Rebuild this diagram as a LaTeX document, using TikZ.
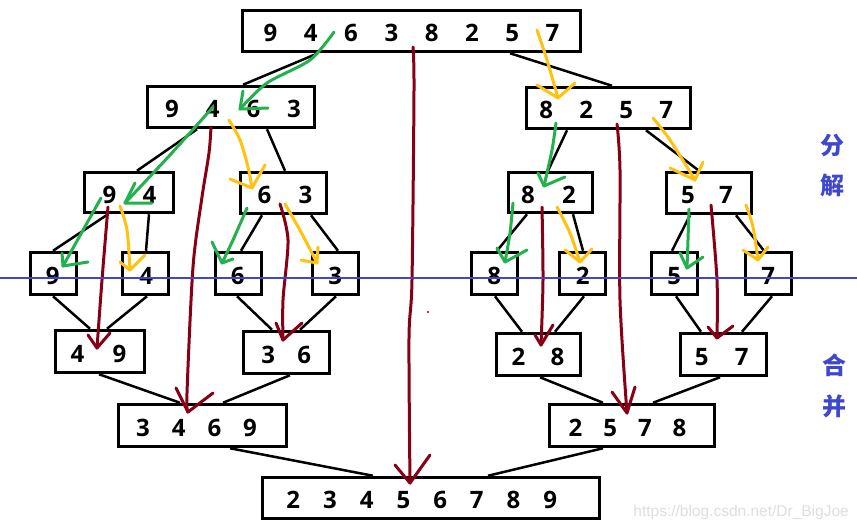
\documentclass[tikz,border=0pt]{standalone}
\usepackage{fontspec}
\setmainfont{Open Sans}
\newfontfamily\cjk{Noto Sans CJK SC}
\newfontfamily\wmfont{Liberation Sans}
\definecolor{pgreen}{HTML}{22B14C}
\definecolor{pyellow}{HTML}{FFC20E}
\definecolor{pred}{HTML}{880015}
\definecolor{pblue}{HTML}{3F48CC}
\newlength\dpitch
\def\Dloop#1{\ifx#1\relax\else\makebox[\dpitch]{#1}\expandafter\Dloop\fi}
\newcommand\row[3]{\setlength\dpitch{#1pt}\hbox to 0pt{\hss\kern#2pt\relax\Dloop#3\relax\hss}}
\tikzset{
  box/.style={draw, line width=3pt, inner sep=0pt, text height=21pt, text depth=0pt,
    font=\bfseries\fontsize{24}{24}\selectfont},
  leaf/.style={box, minimum width=46.5pt, minimum height=42.5pt},
  tree/.style={line width=2.5pt},
  ga/.style={draw=pgreen, line width=3pt, line cap=round, line join=round},
  ya/.style={draw=pyellow, line width=3pt, line cap=round, line join=round},
  ra/.style={draw=pred, line width=3pt, line cap=round, line join=round},
  cjkt/.style={font=\cjk\bfseries\fontsize{24}{24}\selectfont, text=pblue, inner sep=0pt},
  blueline/.style={draw=pblue, line width=2.5pt}
}
\begin{document}
\begin{tikzpicture}[x=1pt,y=-1pt]
\fill[white] (0,0) rectangle (857,531);
\useasboundingbox (0,0) rectangle (857,531);

% boxes
\node[box, minimum width=338.5pt, minimum height=41.5pt] (top) at (411.5,31) {\row{40.3}{0}{94638257}};
\node[box, minimum width=167.5pt, minimum height=41.5pt] (l1a) at (231,107) {\row{40.7}{4}{9463}};
\node[box, minimum width=164.5pt, minimum height=41.5pt] (l1b) at (608.5,108) {\row{40}{-4.5}{8257}};
\node[box, minimum width=89.5pt, minimum height=40.5pt] (l2a) at (129,192.5) {\row{40}{1}{94}};
\node[box, minimum width=86.5pt, minimum height=41.5pt] (l2b) at (283.5,193) {\row{41}{3}{63}};
\node[box, minimum width=84.5pt, minimum height=40.5pt] (l2c) at (550.5,192.5) {\row{41}{-4}{82}};
\node[box, minimum width=85.5pt, minimum height=41.5pt] (l2d) at (709,193) {\row{38}{-4}{57}};
\node[leaf] (f9) at (53.5,273.5) {\row{20}{-1.5}{9}};
\node[leaf] (f4) at (145.5,273.5) {\row{20}{1.5}{4}};
\node[leaf] (f6) at (238.5,273.5) {\row{20}{-1.5}{6}};
\node[leaf] (f3) at (335.5,273.5) {\row{20}{-0.5}{3}};
\node[leaf] (f8) at (494.5,273.5) {\row{20}{-0.5}{8}};
\node[leaf] (f2) at (582.5,273.5) {\row{20}{0.5}{2}};
\node[leaf] (f5) at (674.5,273.5) {\row{20}{-0.5}{5}};
\node[leaf] (f7) at (768.5,273.5) {\row{20}{-0.5}{7}};
\node[box, minimum width=89.5pt, minimum height=42.5pt] (m49) at (100,351.5) {\row{42}{-3}{49}};
\node[box, minimum width=86.5pt, minimum height=42.5pt] (m36) at (286.5,352.5) {\row{36}{-0.5}{36}};
\node[box, minimum width=84.5pt, minimum height=42.5pt] (m28) at (538.5,354.5) {\row{39}{-1}{28}};
\node[box, minimum width=86.5pt, minimum height=42.5pt] (m57) at (723.5,354.5) {\row{40}{-3.5}{57}};
\node[box, minimum width=168.5pt, minimum height=42.5pt] (m3469) at (202.5,425.5) {\row{35.7}{-12}{3469}};
\node[box, minimum width=165.5pt, minimum height=42.5pt] (m2578) at (632,425.5) {\row{34.7}{-9}{2578}};
\node[box, minimum width=337.5pt, minimum height=41.5pt] (fin) at (431,498) {\row{36.7}{-18.5}{23456789}};

% tree connectors
\draw[tree] ([xshift=-93.5pt]top.south) -- ([xshift=12pt]l1a.north);
\draw[tree] ([xshift=98.5pt]top.south) -- ([xshift=3.5pt]l1b.north);
\draw[tree] ([xshift=-34pt]l1a.south) -- ([xshift=8pt]l2a.north);
\draw[tree] ([xshift=36pt]l1a.south) -- ([xshift=1.5pt]l2b.north);
\draw[tree] ([xshift=-41.5pt]l1b.south) -- ([xshift=-2.5pt]l2c.north);
\draw[tree] ([xshift=37.5pt]l1b.south) -- ([xshift=-10pt]l2d.north);
\draw[tree] ([xshift=-21pt]l2a.south) -- ([xshift=-0.5pt]f9.north);
\draw[tree] ([xshift=20pt]l2a.south) -- ([xshift=0.5pt]f4.north);
\draw[tree] ([xshift=-21.5pt]l2b.south) -- ([xshift=2.5pt]f6.north);
\draw[tree] ([xshift=27.5pt]l2b.south) -- ([xshift=2.5pt]f3.north);
\draw[tree] ([xshift=-23.5pt]l2c.south) -- ([xshift=2.5pt]f8.north);
\draw[tree] ([xshift=22.5pt]l2c.south) -- ([xshift=0.5pt]f2.north);
\draw[tree] ([xshift=-19pt]l2d.south) -- ([xshift=-2.5pt]f5.north);
\draw[tree] ([xshift=27pt]l2d.south) -- ([xshift=-4.5pt]f7.north);
\draw[tree] ([xshift=-0.5pt]f9.south) -- ([xshift=-10pt]m49.north);
\draw[tree] ([xshift=1.5pt]f4.south) -- ([xshift=7pt]m49.north);
\draw[tree] ([xshift=-1.5pt]f6.south) -- ([xshift=-14.5pt]m36.north);
\draw[tree] ([xshift=0.5pt]f3.south) -- ([xshift=13.5pt]m36.north);
\draw[tree] ([xshift=0.5pt]f8.south) -- ([xshift=-16.5pt]m28.north);
\draw[tree] ([xshift=1.5pt]f2.south) -- ([xshift=16.5pt]m28.north);
\draw[tree] ([xshift=1.5pt]f5.south) -- ([xshift=-22.5pt]m57.north);
\draw[tree] ([xshift=3.5pt]f7.south) -- ([xshift=18.5pt]m57.north);
\draw[tree] ([xshift=-1pt]m49.south) -- ([xshift=-22.5pt]m3469.north);
\draw[tree] ([xshift=3.5pt]m36.south) -- ([xshift=20.5pt]m3469.north);
\draw[tree] ([xshift=1.5pt]m28.south) -- ([xshift=-29pt]m2578.north);
\draw[tree] ([xshift=-3.5pt]m57.south) -- ([xshift=21pt]m2578.north);
\draw[tree] ([xshift=27.5pt]m3469.south) -- ([xshift=-58pt]fin.north);
\draw[tree] ([xshift=-29pt]m2578.south) -- ([xshift=57pt]fin.north);

% green strokes
\draw[ga] plot[smooth] coordinates {(334,32) (310,60) (267,83) (240,109)};
\draw[ga] (243,91) -- (240,109) -- (268,108);
\draw[ga] plot[smooth] coordinates {(213,107) (170,155) (125,203)};
\draw[ga] (135,183) -- (125,203) -- (152,203);
\draw[ga] plot[smooth] coordinates {(101,198) (82,232) (63,266)};
\draw[ga] (62,253) -- (63,266) -- (88,262);
\draw[ga] plot[smooth] coordinates {(247,208) (233,240) (222,263)};
\draw[ga] (212,242) -- (222,263) -- (233,259);
\draw[ga] plot[smooth] coordinates {(556,123) (552,150) (544,186)};
\draw[ga] (538,173) -- (544,186) -- (565,177);
\draw[ga] plot[smooth] coordinates {(513,203) (510,233) (505,262)};
\draw[ga] (497,248) -- (505,262) -- (527,250);
\draw[ga] plot[smooth] coordinates {(689,209) (688,240) (687,268)};
\draw[ga] (680,253) -- (687,268) -- (703,257);

% yellow strokes
\draw[ya] plot[smooth] coordinates {(537,30) (547,60) (558,98)};
\draw[ya] (537,85) -- (558,98) -- (575,83);
\draw[ya] plot[smooth] coordinates {(229,120) (240,140) (248,167) (252,188)};
\draw[ya] (230,179) -- (252,188) -- (265,165);
\draw[ya] plot[smooth] coordinates {(120,206) (127,230) (130,270)};
\draw[ya] (120,262) -- (130,270) -- (145,255);
\draw[ya] plot[smooth] coordinates {(285,204) (301,232) (317,263)};
\draw[ya] (301,260) -- (317,263) -- (318,247);
\draw[ya] plot[smooth] coordinates {(653,118) (670,140) (695,180)};
\draw[ya] (670,168) -- (695,180) -- (703,162);
\draw[ya] plot[smooth] coordinates {(557,207) (570,233) (580,262)};
\draw[ya] (565,250) -- (580,262) -- (592,249);
\draw[ya] plot[smooth] coordinates {(746,205) (753,227) (758,260)};
\draw[ya] (743,250) -- (758,260) -- (768,247);

% dark red strokes
\draw[ra] plot[smooth] coordinates {(413,47) (414,90) (412,280) (409,338) (410,483)};
\draw[ra] (395,465) -- (410,483) -- (430,455);
\draw[ra] plot[smooth] coordinates {(211,127) (209,153) (202,197) (193,267) (187,393) (188,412)};
\draw[ra] (176,388) -- (188,412) -- (213,393);
\draw[ra] plot[smooth] coordinates {(108,207) (102,280) (97,348)};
\draw[ra] (88,335) -- (97,348) -- (110,333);
\draw[ra] plot[smooth] coordinates {(280,204) (288,240) (283,300) (283,340)};
\draw[ra] (276,323) -- (283,340) -- (302,323);
\draw[ra] plot[smooth] coordinates {(617,124) (620,170) (620,300) (627,413)};
\draw[ra] (612,392) -- (627,413) -- (635,387);
\draw[ra] plot[smooth] coordinates {(542,207) (543,280) (541,345)};
\draw[ra] (535,335) -- (541,345) -- (553,325);
\draw[ra] plot[smooth] coordinates {(711,205) (717,280) (717,338)};
\draw[ra] (708,327) -- (717,338) -- (733,326);
\fill[pred] (428,312) circle (1.2);

% blue divider
\coordinate (bl) at (0,278);
\coordinate (br) at (857,278);
\draw[blueline] (bl) -- (br);

% labels
\node[cjkt] (fen) at (832,145) {分};
\node[cjkt] (jie) at (832,185) {解};
\node[cjkt] (he) at (834,365) {合};
\node[cjkt] (bing) at (834,406) {并};

% watermark
\node[font=\wmfont\fontsize{15.5}{15.5}\selectfont, text=black!13, anchor=east, inner sep=0pt] (wm) at (849,512) {https://blog.csdn.net/Dr\_BigJoe};
\end{tikzpicture}
\end{document}
